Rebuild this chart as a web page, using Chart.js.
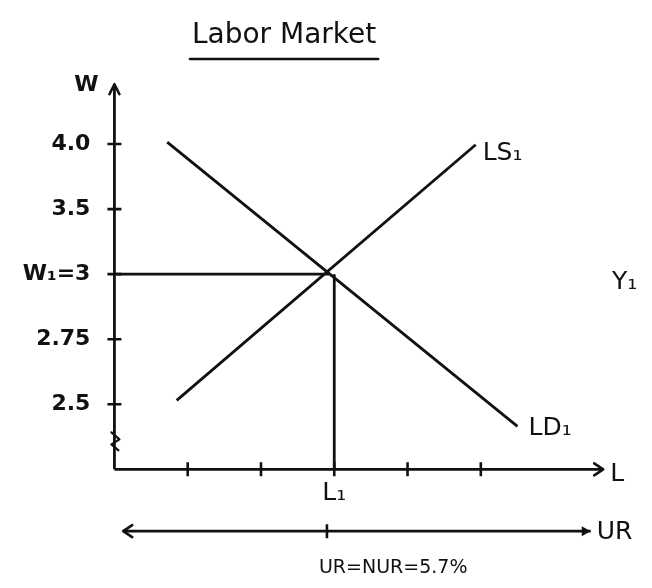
<!DOCTYPE html>
<html>
<head>
<meta charset="utf-8">
<script src="https://cdn.jsdelivr.net/npm/chart.js@4.4.1/dist/chart.umd.min.js"></script>
<style>
  html, body { margin: 0; padding: 0; background: #ffffff; }
  #wrap { width: 652px; height: 588px; position: relative; }
</style>
</head>
<body>
<div id="wrap"><canvas id="c" width="652" height="588"></canvas></div>
<script>
// ---- data (schematic units: x = L tick index, y = W tick index) ----
const chartTitle = 'Labor Market';
const yTickValues = [0, 1, 2, 3, 4];
const yTickLabels = ['2.5', '2.75', 'W\u2081=3', '3.5', '4.0'];
const xTickValues = [1, 2, 3, 4, 5];
const ldX = [0.72, 5.5];
const ldY = [4.03, -0.34];
const lsX = [0.85, 4.93];
const lsY = [0.06, 3.99];
const eqL = 3;        // L1
const eqW = 2;        // W1 = 3
const eqCrossX = 2.93;
const axisBase = -1;  // level of L axis
const yAxisTop = 4.92;
const xAxisEnd = 6.67;
const urLevel = -1.95;
const urStart = 0.12;
const urEnd = 6.5;
const urTick = 2.9;
const urText = 'UR=NUR=5.7%';

const INK = '#111111';
const FONT = '"DejaVu Sans", "Liberation Sans", sans-serif';

function pts(xs, ys) { return xs.map((x, i) => ({ x: x, y: ys[i] })); }

const annot = {
  id: 'annot',
  afterDatasetsDraw(chart) {
    const ctx = chart.ctx;
    const xs = chart.scales.x, ys = chart.scales.y;
    const px = v => xs.getPixelForValue(v);
    const py = v => ys.getPixelForValue(v);
    ctx.save();
    ctx.strokeStyle = INK;
    ctx.fillStyle = INK;
    ctx.lineWidth = 2.6;
    ctx.lineCap = 'round';
    ctx.lineJoin = 'round';

    // y-axis arrow (up)
    let ax = px(0), ay = py(yAxisTop);
    ctx.beginPath();
    ctx.moveTo(ax - 5, ay + 10); ctx.lineTo(ax, ay); ctx.lineTo(ax + 5, ay + 10);
    ctx.stroke();
    // x-axis arrow (right)
    ax = px(xAxisEnd); ay = py(axisBase);
    ctx.beginPath();
    ctx.moveTo(ax - 9, ay - 6); ctx.lineTo(ax, ay); ctx.lineTo(ax - 9, ay + 6);
    ctx.stroke();
    // UR arrows
    ax = px(urStart); ay = py(urLevel);
    ctx.beginPath();
    ctx.moveTo(ax + 9, ay - 6); ctx.lineTo(ax, ay); ctx.lineTo(ax + 9, ay + 6);
    ctx.stroke();
    ax = px(urEnd);
    ctx.beginPath();
    ctx.moveTo(ax - 9, ay - 5); ctx.lineTo(ax, ay); ctx.lineTo(ax - 9, ay + 5); ctx.closePath();
    ctx.fill();

    // axis break mark
    const bx = px(0), by1 = py(axisBase) - 37;
    ctx.lineWidth = 2.2;
    ctx.beginPath();
    ctx.moveTo(bx - 3, by1); ctx.lineTo(bx + 5, by1 + 7);
    ctx.lineTo(bx - 3, by1 + 12); ctx.lineTo(bx + 4, by1 + 18);
    ctx.stroke();

    // title + underline
    ctx.textBaseline = 'middle';
    ctx.textAlign = 'center';
    ctx.font = '28px ' + FONT;
    const tx = (px(1.08) + px(3.55)) / 2;
    ctx.fillText(chartTitle, tx, 36);
    const tw = ctx.measureText(chartTitle).width;
    ctx.lineWidth = 2.4;
    ctx.beginPath();
    ctx.moveTo(tx - tw / 2 - 2, 59); ctx.lineTo(tx + tw / 2 + 2, 59);
    ctx.stroke();

    // y tick labels
    ctx.font = 'bold 22px ' + FONT;
    ctx.textAlign = 'right';
    yTickValues.forEach((v, i) => ctx.fillText(yTickLabels[i], px(0) - 24, py(v)));

    // axis names / curve labels
    ctx.textAlign = 'center';
    ctx.font = 'bold 22px ' + FONT;
    ctx.fillText('W', px(0) - 28, py(yAxisTop) + 1);
    ctx.font = '25px ' + FONT;
    ctx.textAlign = 'left';
    ctx.fillText('LS\u2081', px(lsX[1]) + 7, py(lsY[1]) + 9);
    ctx.fillText('LD\u2081', px(ldX[1]) + 11, py(ldY[1]) + 2);
    ctx.fillText('Y\u2081', 612, py(eqW) + 8);
    ctx.fillText('L', px(xAxisEnd) + 7, py(axisBase) + 5);
    ctx.fillText('UR', px(urEnd) + 6, py(urLevel) + 1);
    ctx.textAlign = 'center';
    ctx.fillText('L\u2081', px(eqL), py(axisBase) + 24);
    ctx.font = '19px ' + FONT;
    ctx.textAlign = 'left';
    ctx.fillText(urText, px(urTick) - 8, py(urLevel) + 37);
    ctx.restore();
  }
};

const lineStyle = { borderColor: INK, borderWidth: 2.8, pointRadius: 0, showLine: true, fill: false, tension: 0 };

new Chart(document.getElementById('c'), {
  type: 'scatter',
  data: {
    datasets: [
      Object.assign({ label: 'LD1', data: pts(ldX, ldY) }, lineStyle),
      Object.assign({ label: 'LS1', data: pts(lsX, lsY) }, lineStyle),
      Object.assign({ label: 'W1', data: [{ x: 0, y: eqW }, { x: eqCrossX, y: eqW }] }, lineStyle),
      Object.assign({ label: 'L1', data: [{ x: eqL, y: eqW }, { x: eqL, y: axisBase }] }, lineStyle),
      Object.assign({ label: 'W axis', data: [{ x: 0, y: axisBase }, { x: 0, y: yAxisTop }] }, lineStyle),
      Object.assign({ label: 'L axis', data: [{ x: 0, y: axisBase }, { x: xAxisEnd, y: axisBase }] }, lineStyle),
      Object.assign({ label: 'UR axis', data: [{ x: urStart, y: urLevel }, { x: urEnd, y: urLevel }] }, lineStyle),
      { label: 'W ticks', data: yTickValues.map(v => ({ x: 0, y: v })), showLine: false,
        pointStyle: 'line', pointRadius: 7, pointBorderWidth: 2.6, pointBorderColor: INK, pointRotation: 0 },
      { label: 'L ticks', data: xTickValues.map(v => ({ x: v, y: axisBase })), showLine: false,
        pointStyle: 'line', pointRadius: 7, pointBorderWidth: 2.6, pointBorderColor: INK, pointRotation: 90 },
      { label: 'UR tick', data: [{ x: urTick, y: urLevel }], showLine: false,
        pointStyle: 'line', pointRadius: 7, pointBorderWidth: 2.6, pointBorderColor: INK, pointRotation: 90 }
    ]
  },
  options: {
    responsive: false,
    animation: false,
    events: [],
    layout: { padding: 0 },
    plugins: { legend: { display: false }, tooltip: { enabled: false }, title: { display: false } },
    scales: {
      x: { type: 'linear', display: false, min: -1.4305, max: 7.205 },
      y: { type: 'linear', display: false, min: -2.6766, max: 6.0669 }
    }
  },
  plugins: [annot]
});
</script>
</body>
</html>
